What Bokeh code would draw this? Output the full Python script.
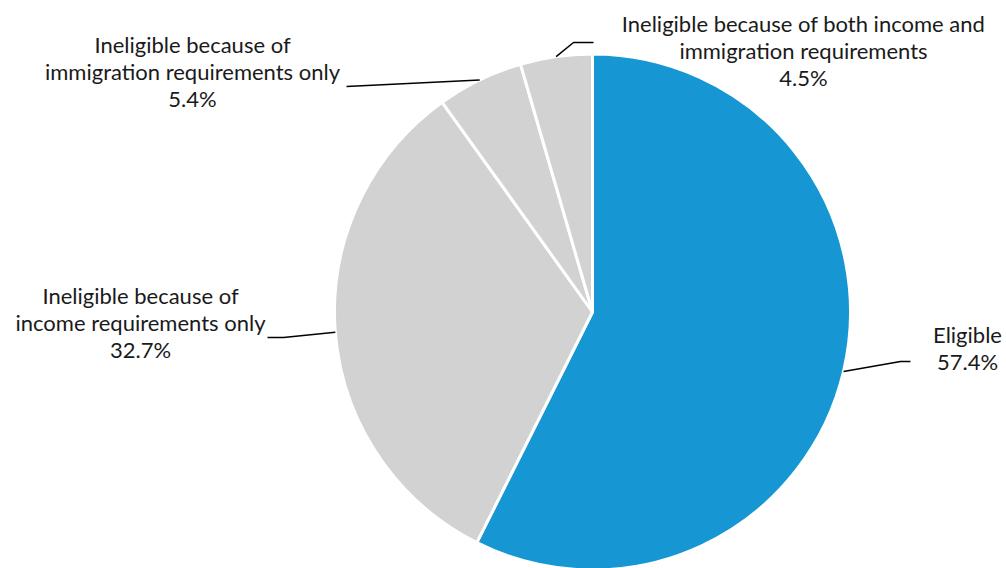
import math
from bokeh.plotting import figure
from bokeh.models import Range1d
from bokeh.core.properties import value
from bokeh.embed import file_html
from bokeh.resources import INLINE

# ---- data ----
categories = [
    "Eligible",
    "Ineligible because of income requirements only",
    "Ineligible because of immigration requirements only",
    "Ineligible because of both income and immigration requirements",
]
shares = [57.4, 32.7, 5.4, 4.5]
colors = ["#1696d2", "#d2d2d2", "#d2d2d2", "#d2d2d2"]
label_lines = [
    ["Eligible"],
    ["Ineligible because of", "income requirements only"],
    ["Ineligible because of", "immigration requirements only"],
    ["Ineligible because of both income and", "immigration requirements"],
]

# ---- layout (pixels, top-left origin) ----
W, H = 1006, 568
CX, CY, R = 592, 311.5, 258
label_pos = [(967, 334), (140, 295), (192, 44), (803, 23)]   # centre x, first baseline
leader_pts = [
    [(900, 361), (910, 361)],
    [(283, 337), (267, 337)],
    [(346, 86)],
    [(573, 42), (593, 42)],
]
LINE_H = 27


def Y(py):
    return H - py


p = figure(width=W, height=H, x_range=Range1d(0, W), y_range=Range1d(0, H),
           output_backend="svg", toolbar_location=None, min_border=0,
           x_axis_location=None, y_axis_location=None)
p.grid.visible = False
p.outline_line_color = None
p.background_fill_color = "white"
p.border_fill_color = "white"

total = sum(shares)
cum = 0.0
font = value("Lato")
for i, s in enumerate(shares):
    a0 = math.pi / 2 - cum / total * 2 * math.pi
    a1 = math.pi / 2 - (cum + s) / total * 2 * math.pi
    p.wedge(x=CX, y=Y(CY), radius=R, start_angle=a0, end_angle=a1,
            direction="clock", fill_color=colors[i], line_color="white",
            line_width=3)
    mid = (a0 + a1) / 2
    ex = CX + R * math.cos(mid)
    ey = Y(CY) + R * math.sin(mid)
    xs = [ex] + [q[0] for q in leader_pts[i]]
    ys = [ey] + [Y(q[1]) for q in leader_pts[i]]
    p.line(xs, ys, line_color="#000000", line_width=1.5)
    cum += s

    lx, ly = label_pos[i]
    lines = label_lines[i] + [f"{s:.1f}%"]
    for k, t in enumerate(lines):
        p.text(x=[lx], y=[Y(ly + k * LINE_H)], text=[t], text_font=font,
               text_font_size="22px", text_align="center",
               text_baseline="alphabetic", text_color="#1a1a1a")

open("out.html", "w").write(file_html(p, INLINE))
